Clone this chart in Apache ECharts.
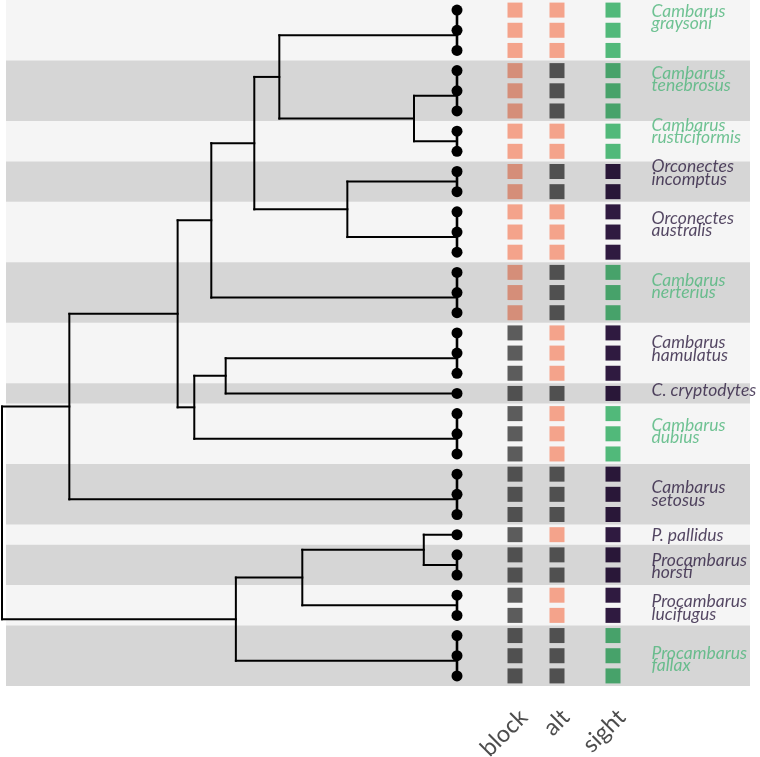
<!DOCTYPE html>
<html><head><meta charset="utf-8">
<script src="https://cdn.jsdelivr.net/npm/echarts@6/dist/echarts.min.js"></script>
<style>html,body{margin:0;padding:0;background:#fff}#c{width:760px;height:757px}</style>
</head><body><div id="c"></div>
<script>
// ---- data ----
const speciesLine1 = ['Cambarus','Cambarus','Cambarus','Orconectes','Orconectes','Cambarus','Cambarus','C. cryptodytes','Cambarus','Cambarus','P. pallidus','Procambarus','Procambarus','Procambarus'];
const speciesLine2 = ['graysoni','tenebrosus','rusticiformis','incomptus','australis','nerterius','hamulatus','','dubius','setosus','','horsti','lucifugus','fallax'];
const speciesCount = [3,3,2,2,3,3,3,1,3,3,1,2,2,3];
const blockValues = ['pink','pink','pink','pink','pink','pink','grey','grey','grey','grey','grey','grey','grey','grey'];
const altValues   = ['pink','grey','pink','grey','pink','grey','pink','grey','pink','grey','pink','grey','pink','grey'];
const sightValues = ['green','green','green','purple','purple','green','purple','purple','green','purple','purple','purple','purple','green'];
const heatColumns = ['block','alt','sight'];
// tree: internal nodes with depth (root 0 .. tips 1); leaves = species index
const tree = {d:0, c:[
  {d:0.148, c:[
    {d:0.386, c:[
      {d:0.460, c:[
        {d:0.5545, c:[
          {d:0.6095, c:[0, {d:0.9055, c:[1,2]}]},
          {d:0.759, c:[3,4]}
        ]},
        5
      ]},
      {d:0.4226, c:[{d:0.4916, c:[6,7]}, 8]}
    ]},
    9
  ]},
  {d:0.514, c:[{d:0.66, c:[{d:0.927, c:[10,11]}, 12]}, 13]}
]};

// ---- derived ----
const nRows = speciesCount.reduce((a,b)=>a+b,0);
const speciesStart = [];
let acc = 0;
speciesCount.forEach(n=>{speciesStart.push(acc); acc+=n;});
const speciesNodeY = speciesCount.map((n,i)=>{
  const r = speciesStart[i];
  if (n===1) return r;
  if (n===2) return r+0.5;
  return ((r + r+1)/2 + r+2)/2;
});
const segs = [];
function layout(node){
  if (typeof node === 'number') return speciesNodeY[node];
  const ys = node.c.map(layout);
  segs.push([node.d, ys[0], node.d, ys[ys.length-1]]);
  node.c.forEach((ch,i)=>{
    const cx = (typeof ch === 'number') ? 1 : ch.d;
    segs.push([node.d, ys[i], cx, ys[i]]);
  });
  return (ys[0]+ys[ys.length-1])/2;
}
layout(tree);
const tipSegs = [];
speciesCount.forEach((n,i)=>{ if(n>1) tipSegs.push([1, speciesStart[i], 1, speciesStart[i]+n-1]); });
const tipDots = [];
for (let r=0;r<nRows;r++) tipDots.push([1,r]);

const colors = {pink:'#FEAA91', grey:'#606060', green:'#55C17F', purple:'#311C43'};
const labelColors = {green:'#4DB57A', purple:'#2B1A3D'};

const hm1 = [], hm2 = [];
speciesCount.forEach((n,i)=>{
  for(let k=0;k<n;k++){
    const r = speciesStart[i]+k;
    hm1.push({value:[0,r], itemStyle:{color:colors[blockValues[i]]}});
    hm1.push({value:[1,r], itemStyle:{color:colors[altValues[i]]}});
    hm2.push({value:[0,r], itemStyle:{color:colors[sightValues[i]]}});
  }
});
const bands = speciesCount.map((n,i)=>[speciesStart[i]-0.5, speciesStart[i]+n-0.5, i%2]);
const labels = speciesCount.map((n,i)=>({
  value:[0, speciesStart[i]+(n-1)/2],
  name: speciesLine2[i] ? speciesLine1[i]+'\n'+speciesLine2[i] : speciesLine1[i],
  label:{color: labelColors[sightValues[i]]}
}));

const yAx = (g)=>({type:'value', gridIndex:g, min:-0.5, max:nRows-0.5, inverse:true, show:false});
// label panel uses a slightly stretched row scale (as in the reference)
const labelAx = {type:'value', gridIndex:4, min:0.1666, max:33.28, inverse:true, show:false};
const lineRender = (w)=>function(params, api){
  const p1 = api.coord([api.value(0), api.value(1)]);
  const p2 = api.coord([api.value(2), api.value(3)]);
  return {type:'line', shape:{x1:p1[0],y1:p1[1],x2:p2[0],y2:p2[1]}, style:{stroke:'#000', lineWidth:w, lineCap:'square'}};
};
const axisLabelStyle = {rotate:45, interval:0, hideOverlap:false, fontSize:23.5, color:'#4d4d4d', fontFamily:'Lato', margin:19, verticalAlign:'top'};
const g = (o)=>Object.assign({outerBoundsMode:'none', containLabel:false}, o);

const chart = echarts.init(document.getElementById('c'), null, {renderer:'canvas'});
chart.setOption({
  animation:false,
  backgroundColor:'#fff',
  grid:[
    g({left:2, top:0, width:455, height:686}),
    g({left:6, top:0, width:744, height:686}),
    g({left:494, top:0, width:84, height:686}),
    g({left:592, top:0, width:42, height:686}),
    g({left:651, top:0, width:100, height:686})
  ],
  xAxis:[
    {type:'value', gridIndex:0, min:0, max:1, show:false},
    {type:'value', gridIndex:1, min:0, max:1, show:false},
    {type:'category', gridIndex:2, data:heatColumns.slice(0,2), axisLine:{show:false}, axisTick:{show:false}, splitLine:{show:false}, axisLabel:axisLabelStyle},
    {type:'category', gridIndex:3, data:heatColumns.slice(2), axisLine:{show:false}, axisTick:{show:false}, splitLine:{show:false}, axisLabel:axisLabelStyle},
    {type:'value', gridIndex:4, min:0, max:1, show:false}
  ],
  yAxis:[yAx(0),yAx(1),yAx(2),yAx(3),labelAx],
  series:[
    {type:'scatter', xAxisIndex:2, yAxisIndex:2, symbol:'rect', symbolSize:15, data:hm1, z:2, silent:true, itemStyle:{opacity:1}},
    {type:'scatter', xAxisIndex:3, yAxisIndex:3, symbol:'rect', symbolSize:15, data:hm2, z:2, silent:true, itemStyle:{opacity:1}},
    {type:'custom', xAxisIndex:1, yAxisIndex:1, z:3, silent:true, data:bands, encode:{x:[],y:[0,1]},
      renderItem:function(params, api){
        const p1 = api.coord([0, api.value(0)]);
        const p2 = api.coord([1, api.value(1)]);
        return {type:'rect', shape:{x:p1[0], y:p1[1], width:p2[0]-p1[0], height:p2[1]-p1[1]},
          style:{fill: api.value(2)===0 ? 'rgba(0,0,0,0.04)' : 'rgba(0,0,0,0.16)'}};
      }},
    {type:'custom', xAxisIndex:0, yAxisIndex:0, z:4, silent:true, data:segs, encode:{x:[0,2],y:[1,3]}, renderItem:lineRender(2)},
    {type:'custom', xAxisIndex:0, yAxisIndex:0, z:4, silent:true, data:tipSegs, encode:{x:[0,2],y:[1,3]}, renderItem:lineRender(2.6)},
    {type:'scatter', xAxisIndex:0, yAxisIndex:0, z:5, silent:true, symbol:'circle', symbolSize:11, itemStyle:{color:'#000', opacity:1}, data:tipDots},
    {type:'scatter', xAxisIndex:4, yAxisIndex:4, z:6, silent:true, symbolSize:1, itemStyle:{color:'rgba(0,0,0,0)'}, data:labels,
      label:{show:true, position:'right', distance:0, formatter:(p)=>p.name, fontFamily:'Lato', fontStyle:'italic', fontSize:17.5, lineHeight:12.5}}
  ]
});
</script></body></html>
